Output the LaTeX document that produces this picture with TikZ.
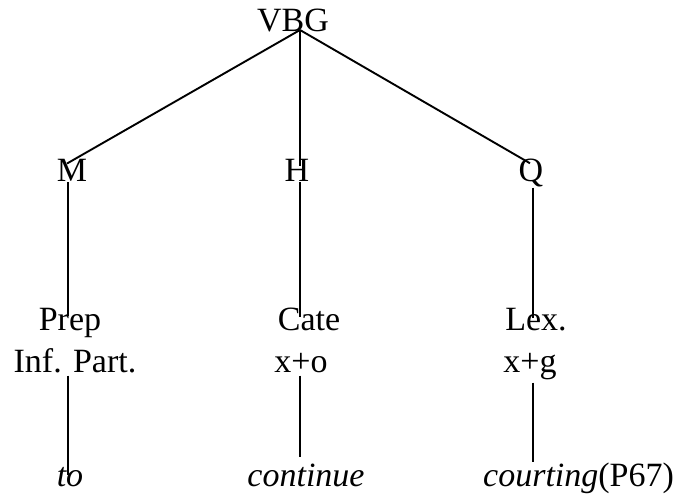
\documentclass[tikz,border=0pt]{standalone}
\usepackage{fontspec}
\setmainfont{Liberation Serif}
\begin{document}
\begin{tikzpicture}[x=1pt,y=1pt,
  lbl/.style={anchor=base,inner sep=0pt,font=\fontsize{34}{40}\selectfont},
  edge/.style={line width=1.9pt}]
\useasboundingbox (0,0) rectangle (679,493);
% root and its three constituents
\node[lbl] (vbg) at (293,461) {VBG};
\coordinate (top) at (300,463);
\node[lbl] (m) at (72,311) {M};
\node[lbl] (h) at (297,311) {H};
\node[lbl] (q) at (531,311) {Q};
% second row
\node[lbl] (prep) at (70,163) {Prep};
\node[lbl] (cate) at (309,163) {Cate};
\node[lbl] (lex) at (536,163) {Lex.};
\node[lbl] (inf) at (75,121) {Inf. Part.};
\node[lbl] (xo) at (301,121) {x+o};
\node[lbl] (xg) at (530,121) {x+g};
% words
\node[lbl] (to) at (70,7) {\itshape to};
\node[lbl] (cont) at (306,7) {\itshape continue};
\node[lbl,anchor=base west] (court) at (483,7) {\itshape courting\upshape(P67)};
% foot of the x+g branch
\coordinate (xgb) at ([xshift=3pt,yshift=-3pt]xg.south);
% branches
\draw[edge] (top) -- ([xshift=-5pt,yshift=-4pt]m.north);
\draw[edge] (top) -- ([xshift=3pt,yshift=-6pt]h.north);
\draw[edge] (top) -- ([xshift=-1pt,yshift=-4pt]q.north);
\draw[edge] ([xshift=-4pt]m.south) -- ([xshift=-2pt,yshift=-8pt]prep.north);
\draw[edge] ([xshift=3pt]h.south) -- ([xshift=-9pt,yshift=-10pt]cate.north);
\draw[edge] ([xshift=2pt]q.south) -- ([xshift=-3pt,yshift=-10pt]lex.north);
\draw[edge] ([xshift=-7pt,yshift=-3pt]inf.south) -- ([xshift=-2pt,yshift=-8pt]to.north);
\draw[edge] ([xshift=-1pt,yshift=-3pt]xo.south) -- ([xshift=-6pt,yshift=6pt]cont.north);
\draw[edge] (xgb) -- (court.north west -| xgb);
\end{tikzpicture}
\end{document}
